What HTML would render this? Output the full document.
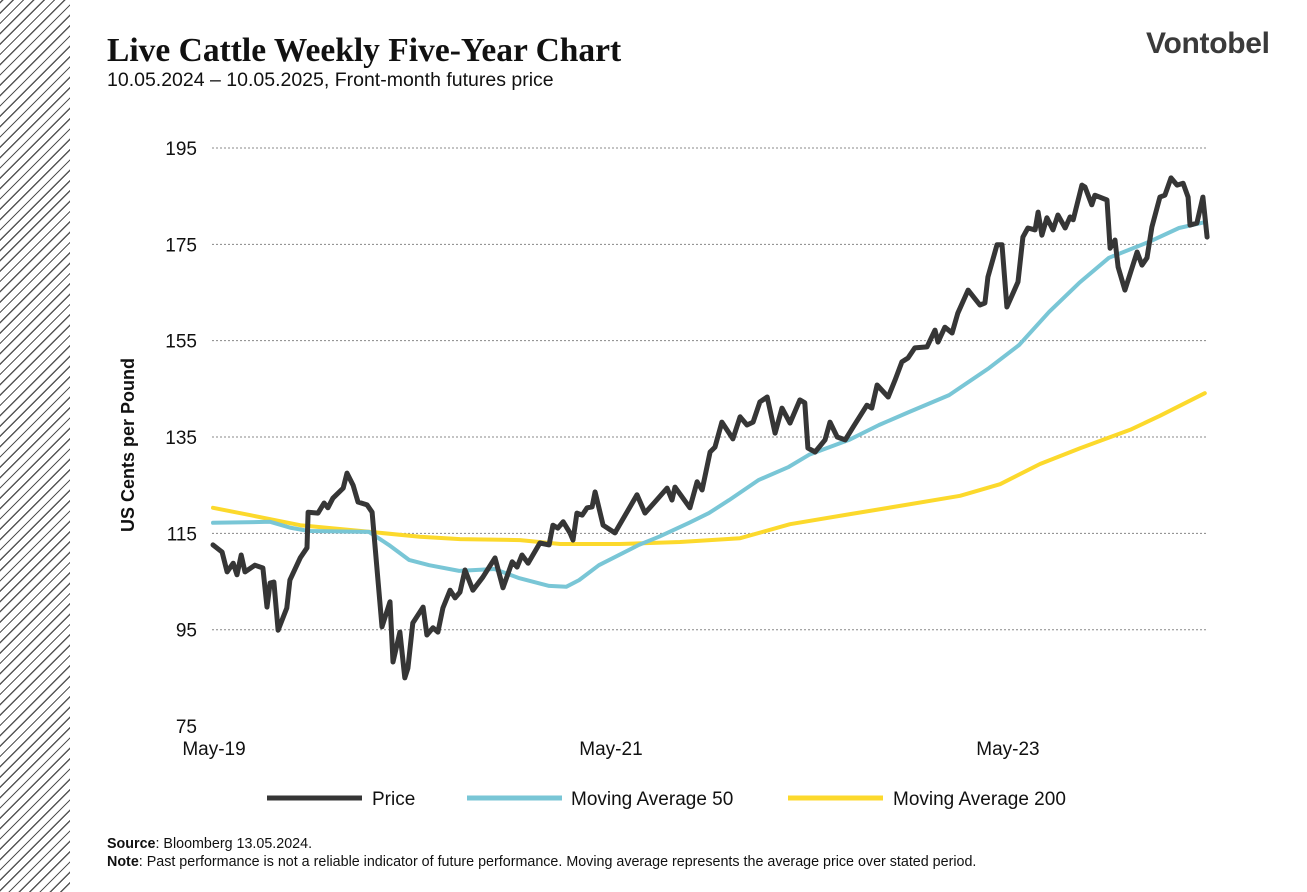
<!DOCTYPE html>
<html><head><meta charset="utf-8"><style>
body{margin:0;width:1307px;height:892px;background:#fff;position:relative;overflow:hidden;font-family:"Liberation Sans",sans-serif}
#hatch{position:absolute;left:0;top:0;width:70px;height:892px;background:repeating-linear-gradient(-45deg,#fff 0 6px,#555 6px 7.3px)}
#title{position:absolute;left:107px;top:32px;font-family:"Liberation Serif",serif;font-weight:bold;font-size:33.5px;color:#111}
#sub{position:absolute;left:107px;top:69px;font-size:19.5px;color:#111}
#logo{position:absolute;left:1146px;top:27px;font-size:30px;font-weight:bold;color:#3a3a3a;letter-spacing:-0.3px}
#foot{position:absolute;left:107px;top:836px;font-size:14.3px;color:#111;line-height:17.5px}
</style></head><body>
<div id="hatch"></div>
<div id="title">Live Cattle Weekly Five-Year Chart</div>
<div id="sub">10.05.2024 – 10.05.2025, Front-month futures price</div>
<div id="logo">Vontobel</div>
<svg id="chart" width="1307" height="892" style="position:absolute;left:0;top:0"></svg>
<div id="foot"><b>Source</b>: Bloomberg 13.05.2024.<br><b>Note</b>: Past performance is not a reliable indicator of future performance. Moving average represents the average price over stated period.</div>
<script>
const yTicks=[195,175,155,135,115,95,75];
const xTickLabels=["May-19","May-21","May-23"];
const xTickWeeks=[0,104.3,208.6];
const priceWeeks=[0,2.4,3.7,5.3,6.3,7.4,8.4,11.0,13.1,14.2,15.0,16.0,17.1,19.4,20.2,22.9,24.7,25.0,27.6,29.2,30.2,31.5,34.2,35.2,36.8,38.1,40.5,41.8,44.4,46.5,47.3,49.1,50.4,51.2,52.5,55.2,56.2,57.8,59.1,60.4,62.3,63.6,64.9,66.2,68.3,70.9,74.1,76.2,78.6,79.9,81.2,82.8,85.9,88.3,89.3,90.6,92.0,93.8,94.6,95.6,97.0,98.3,99.6,100.4,102.5,105.6,111.4,113.5,116.1,119.3,120.6,121.4,125.3,127.2,128.5,130.6,131.9,133.7,136.6,138.5,140.3,141.9,143.7,145.6,147.7,149.5,151.6,154.2,155.5,156.3,158.2,160.8,162.1,164.0,166.1,168.2,171.8,173.1,174.5,177.4,179.2,181.0,182.6,184.4,187.6,189.7,190.5,192.3,194.2,195.7,198.4,201.5,202.8,203.6,206.0,207.3,208.6,211.5,212.8,214.1,216.0,216.8,217.8,219.1,220.7,222.0,223.9,225.2,226.0,228.3,229.1,230.9,231.7,234.9,235.7,237.0,237.8,239.6,242.8,244.1,245.4,246.7,248.8,250.1,251.7,253.3,254.9,256.2,256.7,258.5,260.1,261.2];
const priceValues=[112.6,111.1,107.0,108.8,106.4,110.5,107.0,108.4,107.8,99.7,104.7,104.9,94.9,99.5,105.3,109.9,112.0,119.4,119.2,121.3,120.3,122.3,124.4,127.5,125.0,121.5,120.9,119.4,95.6,100.8,88.3,94.5,85.0,87.0,96.4,99.7,93.9,95.4,94.5,99.5,103.2,101.6,102.8,107.4,103.2,105.9,109.9,103.7,109.1,108.0,110.5,108.8,113.0,112.6,116.7,116.1,117.4,115.1,113.6,119.2,118.8,120.3,120.5,123.6,116.7,115.1,123.0,119.2,121.5,124.4,121.9,124.6,120.3,125.7,124.0,131.9,132.9,138.1,134.6,139.2,137.5,138.1,142.3,143.3,135.8,141.0,137.9,142.7,142.1,132.7,131.9,134.4,138.1,135.0,134.4,137.1,141.6,141.0,145.8,143.3,146.8,150.6,151.4,153.5,153.7,157.2,154.7,157.8,156.6,160.7,165.5,162.4,162.8,168.2,174.9,174.9,162.0,167.2,176.5,178.4,178.0,181.7,176.9,180.5,178.0,181.1,178.4,180.7,180.1,187.3,186.9,183.2,185.2,184.2,174.2,175.9,170.3,165.5,173.4,170.7,172.2,178.6,184.8,185.2,188.8,187.3,187.7,184.8,179.0,179.4,184.8,176.5];
const ma50Weeks=[0,15.0,20.2,25.2,41.0,46.2,51.5,56.8,64.7,73.9,80.5,88.3,92.8,96.2,101.4,111.9,117.2,125.1,130.3,135.6,143.4,151.3,156.6,167.1,175.0,182.9,193.4,203.9,211.8,219.7,227.6,235.4,245.9,253.8,260.6];
const ma50Values=[117.2,117.4,116.2,115.5,115.3,112.6,109.5,108.4,107.2,107.6,105.7,104.1,103.9,105.3,108.4,112.6,114.3,117.2,119.2,121.9,126.1,128.8,131.3,134.4,137.5,140.2,143.7,149.3,154.1,161.0,167.0,172.2,175.5,178.4,179.6];
const ma200Weeks=[0,9.7,22.9,41.3,54.4,64.9,80.7,91.2,106.9,122.7,138.5,151.6,167.4,180.5,196.3,206.8,217.3,227.9,241.0,248.8,260.6];
const ma200Values=[120.3,118.8,116.7,115.3,114.3,113.8,113.6,112.8,112.8,113.2,114.0,116.9,119.0,120.7,122.8,125.2,129.4,132.7,136.5,139.4,144.1];

const NS="http://www.w3.org/2000/svg";
const svg=document.getElementById('chart');
const xS=w=>213+w*3.806;
const yS=p=>148+(195-p)*4.817;
function mk(t,a){const e=document.createElementNS(NS,t);for(const k in a)e.setAttribute(k,a[k]);svg.appendChild(e);return e;}
yTicks.forEach(v=>{
  if(v>75){const g=mk('line',{x1:212,x2:1206,y1:yS(v),y2:yS(v),stroke:'#888','stroke-width':1,'stroke-dasharray':'2,2'});
  
  }
  const t=mk('text',{x:197,y:yS(v)+7,'text-anchor':'end','font-size':19,fill:'#111','font-family':'Liberation Sans'});
  t.textContent=v;
  
  
});
xTickLabels.forEach((l,i)=>{
  const t=mk('text',{x:xS(xTickWeeks[i])+1,y:755,'text-anchor':'middle','font-size':19,fill:'#111','font-family':'Liberation Sans'});
  t.textContent=l;
  
  
});
const yt=mk('text',{x:0,y:0,transform:'translate(134,445) rotate(-90)','text-anchor':'middle','font-size':18,'font-weight':'bold',fill:'#111','font-family':'Liberation Sans'});
yt.textContent='US Cents per Pound';


function line(ws,vs,col,wd,name){
  const d=ws.map((w,i)=>(i?'L':'M')+xS(w).toFixed(1)+','+yS(vs[i]).toFixed(1)).join('');
  const p=mk('path',{d:d,fill:'none',stroke:col,'stroke-width':wd,'stroke-linejoin':'round','stroke-linecap':'round'});
  
  
}
line(ma200Weeks,ma200Values,'#fcd92c',4,'ma200-line');
line(ma50Weeks,ma50Values,'#79c6d6',4,'ma50-line');
line(priceWeeks,priceValues,'#363636',5,'price-line');
const leg=[['Price','#363636',267,372],['Moving Average 50','#79c6d6',467,571],['Moving Average 200','#fcd92c',788,893]];
leg.forEach(l=>{
  const s=mk('line',{x1:l[2],x2:l[2]+95,y1:798,y2:798,stroke:l[1],'stroke-width':5});
  
  
  const t=mk('text',{x:l[3],y:805,'font-size':19,fill:'#111','font-family':'Liberation Sans'});
  t.textContent=l[0];
  
  
});
</script>
</body></html>
